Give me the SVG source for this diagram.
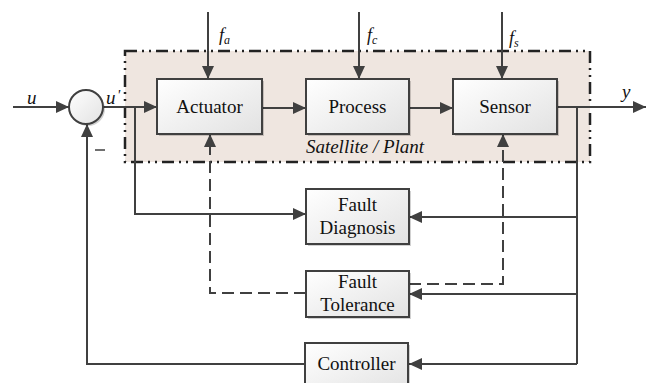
<svg xmlns="http://www.w3.org/2000/svg" width="655" height="383" viewBox="0 0 655 383">
  <defs>
    <linearGradient id="boxFill" x1="0" y1="0" x2="1" y2="1">
      <stop offset="0" stop-color="#ffffff"/>
      <stop offset="1" stop-color="#e2e2e2"/>
    </linearGradient>
    <marker id="arrow" viewBox="0 0 13 12" refX="13" refY="6" markerWidth="13" markerHeight="12" markerUnits="userSpaceOnUse" orient="auto">
      <path d="M0,0 L13,6 L0,12 Z" fill="#404040"/>
    </marker>
  </defs>

  <rect width="655" height="383" fill="#ffffff"/>

  <!-- plant boundary -->
  <g id="plant">
    <rect x="125" y="51" width="465" height="111" fill="#efe6e0"/>
    <rect x="125" y="51" width="465" height="111" fill="none" stroke="#222" stroke-width="2.5" stroke-dasharray="12 5 2 5 2 5"/>
  </g>

  <!-- connectors -->
  <g id="connectors" fill="none" stroke="#404040" stroke-width="2">
    <line x1="13" y1="107" x2="69" y2="107" marker-end="url(#arrow)"/>
    <line x1="103" y1="107" x2="157" y2="107" marker-end="url(#arrow)"/>
    <polyline points="135,107 135,214 306,214" marker-end="url(#arrow)"/>
    <line x1="262" y1="108" x2="306" y2="108" marker-end="url(#arrow)"/>
    <line x1="409" y1="108" x2="453" y2="108" marker-end="url(#arrow)"/>
    <line x1="557" y1="107" x2="646" y2="107" marker-end="url(#arrow)"/>
    <line x1="208" y1="12" x2="208" y2="79" marker-end="url(#arrow)"/>
    <line x1="359" y1="12" x2="359" y2="79" marker-end="url(#arrow)"/>
    <line x1="502" y1="12" x2="502" y2="79" marker-end="url(#arrow)"/>
    <line x1="577" y1="107" x2="577" y2="364"/>
    <line x1="577" y1="217" x2="409" y2="217" marker-end="url(#arrow)"/>
    <line x1="577" y1="294" x2="409" y2="294" marker-end="url(#arrow)"/>
    <line x1="577" y1="364" x2="409" y2="364" marker-end="url(#arrow)"/>
    <polyline points="305,364 87,364 87,124" marker-end="url(#arrow)"/>
    <polyline stroke-dasharray="12 6" points="306,293 210,293 210,134" marker-end="url(#arrow)"/>
    <polyline stroke-dasharray="12 6" points="409,284 503,284 503,134" marker-end="url(#arrow)"/>
  </g>

  <g id="sum">
    <circle cx="88" cy="109" r="17" fill="#000" fill-opacity="0.18"/>
    <circle cx="86" cy="107" r="17" fill="url(#boxFill)" stroke="#404040" stroke-width="2"/>
  </g>

  <!-- blocks: soft offset shadow, then gradient body -->
  <g id="actuator">
    <rect x="159" y="81" width="105" height="55" fill="#000" fill-opacity="0.18"/>
    <rect x="157" y="79" width="105" height="55" fill="url(#boxFill)" stroke="#404040" stroke-width="2"/>
    <text x="209.5" y="113" font-family="Liberation Serif" font-size="19" fill="#111" text-anchor="middle">Actuator</text>
  </g>
  <g id="process">
    <rect x="308" y="81" width="103" height="55" fill="#000" fill-opacity="0.18"/>
    <rect x="306" y="79" width="103" height="55" fill="url(#boxFill)" stroke="#404040" stroke-width="2"/>
    <text x="357.5" y="113" font-family="Liberation Serif" font-size="19" fill="#111" text-anchor="middle">Process</text>
  </g>
  <g id="sensor">
    <rect x="455" y="81" width="104" height="55" fill="#000" fill-opacity="0.18"/>
    <rect x="453" y="79" width="104" height="55" fill="url(#boxFill)" stroke="#404040" stroke-width="2"/>
    <text x="505" y="113" font-family="Liberation Serif" font-size="19" fill="#111" text-anchor="middle">Sensor</text>
  </g>
  <g id="fault-diagnosis">
    <rect x="308" y="191" width="103" height="55" fill="#000" fill-opacity="0.18"/>
    <rect x="306" y="189" width="103" height="55" fill="url(#boxFill)" stroke="#404040" stroke-width="2"/>
    <text x="357.5" y="211" font-family="Liberation Serif" font-size="19" fill="#111" text-anchor="middle">Fault</text>
    <text x="357.5" y="234" font-family="Liberation Serif" font-size="19" fill="#111" text-anchor="middle">Diagnosis</text>
  </g>
  <g id="fault-tolerance">
    <rect x="308" y="273" width="103" height="46" fill="#000" fill-opacity="0.18"/>
    <rect x="306" y="271" width="103" height="46" fill="url(#boxFill)" stroke="#404040" stroke-width="2"/>
    <text x="357.5" y="288" font-family="Liberation Serif" font-size="19" fill="#111" text-anchor="middle">Fault</text>
    <text x="357.5" y="311" font-family="Liberation Serif" font-size="19" fill="#111" text-anchor="middle">Tolerance</text>
  </g>
  <g id="controller">
    <rect x="307" y="345" width="103" height="50" fill="#000" fill-opacity="0.18"/>
    <rect x="305" y="343" width="103" height="50" fill="url(#boxFill)" stroke="#404040" stroke-width="2"/>
    <text x="356.5" y="370" font-family="Liberation Serif" font-size="19" fill="#111" text-anchor="middle">Controller</text>
  </g>

  <!-- signal labels -->
  <line x1="95" y1="150" x2="105" y2="150" stroke="#222" stroke-width="1.3"/>
  <text x="365" y="153" font-family="Liberation Serif" font-style="italic" font-size="19" fill="#111" text-anchor="middle">Satellite / Plant</text>
  <text x="27" y="104" font-family="Liberation Serif" font-style="italic" font-size="19" fill="#111">u</text>
  <text x="106" y="104" font-family="Liberation Serif" font-style="italic" font-size="19" fill="#111">u</text>
  <text x="117" y="100" font-family="Liberation Serif" font-style="italic" font-size="15" fill="#111">'</text>
  <text x="219" y="41" font-family="Liberation Serif" font-style="italic" font-size="18" fill="#111">f<tspan font-size="12" dy="3">a</tspan></text>
  <text x="367" y="41" font-family="Liberation Serif" font-style="italic" font-size="18" fill="#111">f<tspan font-size="12" dy="3">c</tspan></text>
  <text x="509" y="44" font-family="Liberation Serif" font-style="italic" font-size="18" fill="#111">f<tspan font-size="12" dy="3">s</tspan></text>
  <text x="622" y="98" font-family="Liberation Serif" font-style="italic" font-size="19" fill="#111">y</text>
</svg>
